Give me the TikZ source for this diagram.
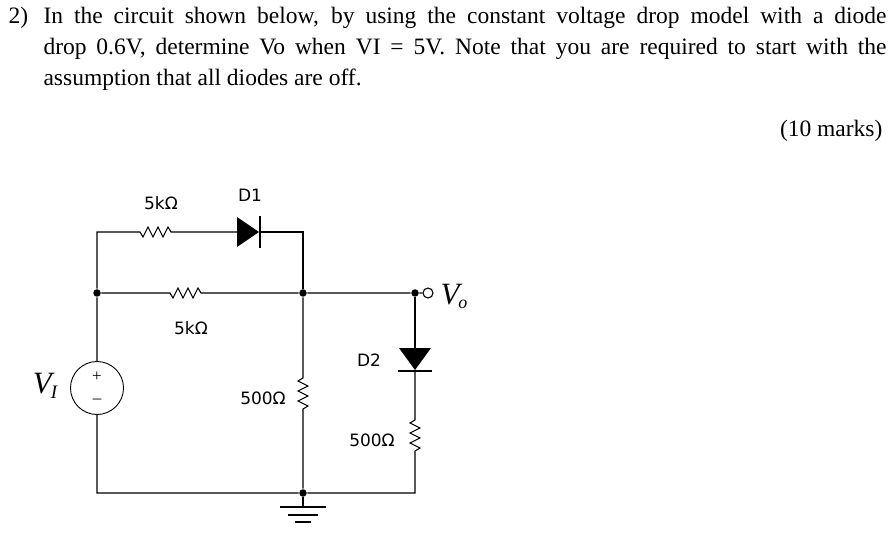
\documentclass[tikz,border=0pt]{standalone}
\usepackage{fontspec}
\setmainfont{Liberation Serif}
\newfontfamily\lab{DejaVu Sans}
\begin{document}
\begin{tikzpicture}[x=1pt,y=-1pt,line width=1.1pt,
  dot/.style={circle,fill,inner sep=0pt,minimum size=7.5pt},
  lbl/.style={font=\lab\fontsize{17}{19}\selectfont,inner sep=0pt},
  big/.style={font=\fontsize{31}{33}\selectfont\itshape,inner sep=0pt}]
\useasboundingbox[fill=white] (0,0) rectangle (896,534);
% question text
\node[anchor=north west,inner sep=0pt,font=\fontsize{23.5}{31}\selectfont] (num) at (8,7) {2)};
\node[anchor=north west,inner sep=0pt,text width=843pt,align=justify,font=\fontsize{23.5}{31}\selectfont] (q) at (43,7)
 {In the circuit shown below, by using the constant voltage drop model with a diode\linebreak drop 0.6V, determine Vo when VI = 5V. Note that you are required to start with the\linebreak assumption that all diodes are off.};
\node[anchor=north east,inner sep=0pt,font=\fontsize{23.5}{31}\selectfont] (marks) at (883,120) {(10 marks)};
% nodes
\coordinate (tl) at (97,232);
\coordinate (tr) at (303,232);
\node[dot] (ml) at (97,293) {};
\node[dot] (mm) at (303,293) {};
\node[dot] (mr) at (415,293) {};
\node[circle,draw,inner sep=0pt,minimum size=10pt] (out) at (428,293) {};
\node[big,anchor=west] (vo) at (440,296) {V\kern-1pt\raisebox{-4pt}{\fontsize{18}{18}\selectfont o}};
\node[circle,draw,line width=0.9pt,minimum size=53pt,inner sep=0pt] (src) at (97,388) {};
\node[font=\fontsize{17}{17}\selectfont,inner sep=0pt] (plus) at (97,377) {+};
\node[font=\fontsize{17}{17}\selectfont,inner sep=0pt] (minus) at (97,401) {--};
\node[big] (vi) at (45,386) {V\kern-1pt\raisebox{-5pt}{\fontsize{19}{19}\selectfont I}};
\coordinate (bl) at (97,493);
\node[dot] (bm) at (303,493) {};
\coordinate (br) at (415,493);
\coordinate (g) at (303,507);
% labels
\node[lbl] (l1) at (161,203) {5kΩ};
\node[lbl] (l2) at (250,195) {D1};
\node[lbl] (l3) at (191,328) {5kΩ};
\node[lbl] (l4) at (263,398) {500Ω};
\node[lbl] (l5) at (369,360) {D2};
\node[lbl] (l6) at (372,440) {500Ω};
% wires
\draw (src) -- (ml) -- (tl) -- (140,232) -- ++(3,5) -- ++(5,-10) -- ++(5,10) -- ++(5,-10) -- ++(5,10) -- ++(5,-10) -- ++(3,5) -- (237,232);
\fill (237,217) -- (259,232) -- (237,247) -- cycle;
\draw (260,216) -- (260,248);
\draw (259,232) -- (tr) -- (mm);
\draw (ml) -- (170,293) -- ++(3,5) -- ++(5,-10) -- ++(5,10) -- ++(5,-10) -- ++(5,10) -- ++(5,-10) -- ++(3,5) -- (mm) -- (mr) -- (out);
\draw (mm) -- (303,378) -- ++(-5,3) -- ++(10,5) -- ++(-10,5) -- ++(10,5) -- ++(-10,5) -- ++(10,5) -- ++(-5,3) -- (bm);
\draw (mr) -- (415,348);
\fill (399,348) -- (431,348) -- (415,370) -- cycle;
\draw (398,371) -- (432,371);
\draw (415,371) -- (415,420) -- ++(-5,3) -- ++(10,5) -- ++(-10,5) -- ++(10,5) -- ++(-10,5) -- ++(10,5) -- ++(-5,3) -- (br) -- (bm) -- (bl) -- (src);
\draw (bm) -- (g);
\draw (280,507) -- (326,507);
\draw (288,515) -- (318,515);
\draw (295,522) -- (311,522);
\end{tikzpicture}
\end{document}
